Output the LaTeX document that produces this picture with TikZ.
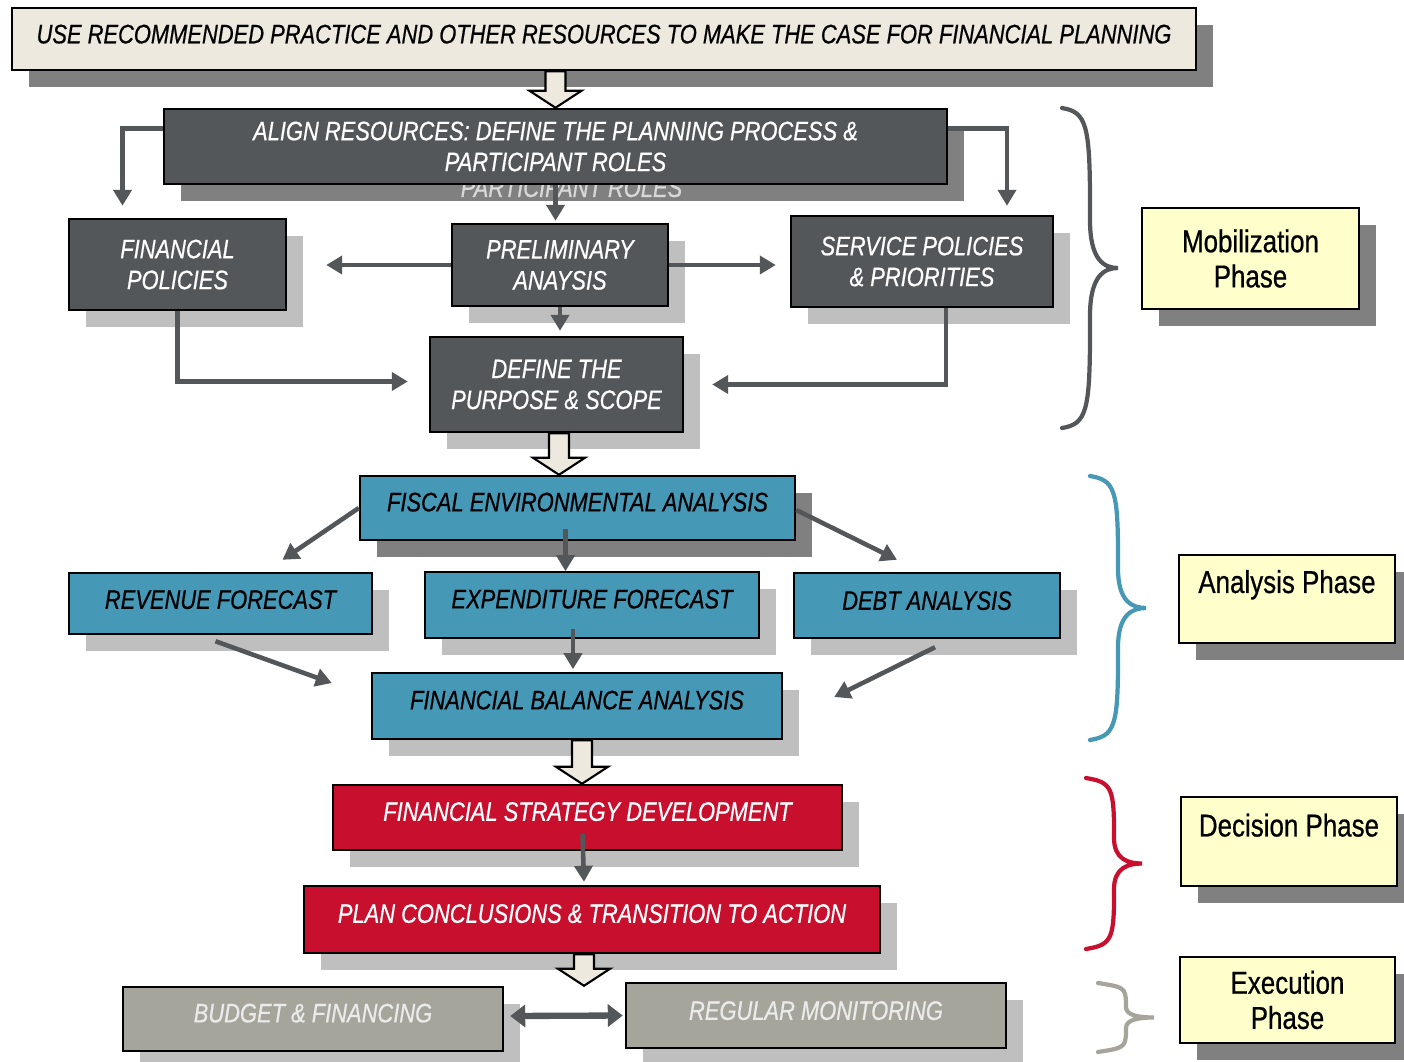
\documentclass[tikz,border=0pt]{standalone}
\usepackage{fontspec}
\setmainfont{Liberation Sans}[FakeStretch=0.82, FakeBold=0.6]
\usetikzlibrary{arrows.meta}
\usetikzlibrary{calc}
\usetikzlibrary{shadows}

\definecolor{boxdark}{HTML}{53575A}
\definecolor{boxbeige}{HTML}{EEE9DE}
\definecolor{boxblue}{HTML}{4598B6}
\definecolor{boxred}{HTML}{C8102E}
\definecolor{boxgray}{HTML}{A5A59C}
\definecolor{phaseyellow}{HTML}{FFFFCC}
\definecolor{shadowdark}{HTML}{808080}
\definecolor{shadowlight}{HTML}{BFBFBF}

\tikzset{
  stagebox/.style={draw=black, line width=1.4pt, align=center, inner sep=0pt,
    font=\fontsize{15.2}{17.6}\selectfont\itshape},
  boxsize/.style 2 args={minimum width=#1*0.02cm, minimum height=#2*0.02cm},
  darkshadow/.style={drop shadow={shadow xshift=0.34cm, shadow yshift=-0.34cm, fill=shadowdark, opacity=1}},
  lightshadow/.style={drop shadow={shadow xshift=0.34cm, shadow yshift=-0.34cm, fill=shadowlight, opacity=1}},
  lift/.style={text depth=#1},
  darkstage/.style={stagebox, fill=boxdark, text=white},
  bluestage/.style={stagebox, fill=boxblue, text=black},
  redstage/.style={stagebox, fill=boxred, text=white},
  graystage/.style={stagebox, fill=boxgray, text=white!92!black},
  phasebox/.style={draw=black, line width=1.4pt, fill=phaseyellow, align=center, inner sep=0pt,
    font=\fontsize{18}{20}\selectfont, darkshadow},
  conn/.style={draw=boxdark, line width=2.6pt, -{Triangle[length=0.32cm, width=0.36cm]}},
  dbl/.style={draw=boxdark, line width=3.6pt,
    {Triangle[length=0.3cm, width=0.44cm]}-{Triangle[length=0.3cm, width=0.44cm]}},
  hollow/.style={draw=black, line width=1.2pt, fill=boxbeige, line join=miter},
  brace/.style={line width=2.4pt, line cap=round},
}

% block arrow from #1 straight down to the level of #2
\newcommand{\hollowarrow}[2]{%
  \path (#1) coordinate (ha-s) (#2) coordinate (ha-e);
  \draw[hollow] ($(ha-s)+(-10,0)$) -- ($(ha-s)+(10,0)$) -- ($(ha-s |- ha-e)+(10,-17)$)
    -- ($(ha-s |- ha-e)+(26,-17)$) -- (ha-s |- ha-e) -- ($(ha-s |- ha-e)+(-26,-17)$)
    -- ($(ha-s |- ha-e)+(-10,-17)$) -- cycle;
}

% curly brace: x, top, bottom, colour
\newcommand{\phasebrace}[4]{%
  \pgfmathsetmacro\bmid{(#2+#3)/2}
  \pgfmathsetmacro\bq{(#3-#2)/4}
  \draw[brace, #4] (#1,#2) .. controls +(24,4) and +(0,-\bq) .. (#1+28,#2+\bq*1.2)
    -- (#1+28,\bmid-\bq*0.6) .. controls +(0,\bq*0.5) and +(-14,0) .. (#1+56,\bmid)
    .. controls +(-14,0) and +(0,-\bq*0.5) .. (#1+28,\bmid+\bq*0.6)
    -- (#1+28,#3-\bq*1.2) .. controls +(0,\bq) and +(24,-4) .. (#1,#3);
}

\begin{document}
\begin{tikzpicture}[x=0.02cm, y=-0.02cm]
    \useasboundingbox (0,0) rectangle (1404,1062);
    \fill[white] (0,0) rectangle (1404,1062);

    % Case for planning
    \node[stagebox, fill=boxbeige, darkshadow, boxsize={1184}{62}, lift=0.2cm] (top) at (604,39)
        {USE RECOMMENDED PRACTICE AND OTHER RESOURCES TO MAKE THE CASE FOR FINANCIAL PLANNING};

    % Mobilization
    \node[darkstage, darkshadow, boxsize={783}{75}] (align) at (555.5,146.5)
        {ALIGN RESOURCES: DEFINE THE PLANNING PROCESS \&\\PARTICIPANT ROLES};
    \begin{scope}
        \clip (align.south west) rectangle ($(align.south east)+(40,20)$);
        \node[font=\fontsize{15.2}{17.6}\selectfont\itshape, text=shadowlight!60!white] (ghost)
            at ($(align.south)+(16,2.5)$) {PARTICIPANT ROLES};
    \end{scope}
    \node[darkstage, lightshadow, boxsize={217}{91}] (finpol) at (177.5,264.5) {FINANCIAL\\POLICIES};
    \node[darkstage, lightshadow, boxsize={216}{82}] (prelim) at (560,265) {PRELIMINARY\\ANAYSIS};
    \node[darkstage, lightshadow, boxsize={262}{91}] (service) at (922,261.5) {SERVICE POLICIES\\\& PRIORITIES};
    \node[darkstage, lightshadow, boxsize={253}{95}] (define) at (556.5,384.5) {DEFINE THE\\PURPOSE \& SCOPE};

    % Analysis
    \node[bluestage, darkshadow, boxsize={435}{64}, lift=0.24cm] (fiscal) at (577.5,508) {FISCAL ENVIRONMENTAL ANALYSIS};
    \node[bluestage, lightshadow, boxsize={303}{61}, lift=0.16cm] (revenue) at (220.5,603.5) {REVENUE FORECAST};
    \node[bluestage, lightshadow, boxsize={334}{66}, lift=0.24cm] (expend) at (592,605) {EXPENDITURE FORECAST};
    \node[bluestage, lightshadow, boxsize={266}{65}, lift=0.2cm] (debt) at (927,605.5) {DEBT ANALYSIS};
    \node[bluestage, lightshadow, boxsize={410}{66}, lift=0.24cm] (fba) at (577,706) {FINANCIAL BALANCE ANALYSIS};

    % Decision
    \node[redstage, lightshadow, boxsize={509}{65}, lift=0.24cm] (strategy) at (587.5,817.5) {FINANCIAL STRATEGY DEVELOPMENT};
    \node[redstage, lightshadow, boxsize={576}{67}, lift=0.24cm] (plan) at (592,919.5) {PLAN CONCLUSIONS \& TRANSITION TO ACTION};

    % Execution
    \node[graystage, lightshadow, boxsize={380}{64}, lift=0.24cm] (budget) at (313,1019) {BUDGET \& FINANCING};
    \node[graystage, lightshadow, boxsize={380}{65}, lift=0.2cm] (monitor) at (816,1015.5) {REGULAR MONITORING};

    % Phases
    \node[phasebox, boxsize={217}{101}] (mobil) at (1250.5,258.5) {Mobilization\\Phase};
    \node[phasebox, boxsize={216}{88}, lift=0.7cm] (analysis) at (1287,599) {Analysis Phase};
    \node[phasebox, boxsize={216}{89}, lift=0.66cm] (decision) at (1289,841.5) {Decision Phase};
    \node[phasebox, boxsize={215}{86}] (execution) at (1287.5,1000) {Execution\\Phase};

    % Braces
    \phasebrace{1062}{108}{428}{boxdark}
    \phasebrace{1090}{476}{740}{boxblue}
    \phasebrace{1086}{778}{949}{boxred}
    \phasebrace{1098}{983}{1052}{boxgray}

    % Block arrows
    \hollowarrow{align.north |- top.south}{align.north}
    \hollowarrow{[xshift=0.05cm]define.south}{fiscal.north}
    \hollowarrow{[xshift=0.1cm]fba.south}{strategy.north}
    \hollowarrow{[xshift=-0.16cm]plan.south}{budget.north}

    % Connectors
    \draw[conn] ($(align.north west)+(0,21)$) -| ($(finpol.north)+(-55,-12)$);
    \draw[conn] ($(align.north east)+(0,21)$) -| ($(service.north)+(85,-9)$);
    \draw[conn] (align.south) -- ($(align.south |- prelim.north)+(0,-2)$);
    \draw[conn] (prelim.west) -- ($(prelim.west -| finpol.east)+(39,0)$);
    \draw[conn] (prelim.east) -- ($(prelim.east -| service.west)+(-14,0)$);
    \draw[conn] (prelim.south) -- ($(prelim.south |- define.north)+(0,-5)$);
    \draw[conn] (finpol.south) |- ($(define.west)+(-21,-3)$);
    \draw[conn] ($(service.south)+(24,0)$) |- ($(define.east)+(28,0)$);

    \draw[conn] (fiscal.west) -- ($(revenue.north)+(62,-12)$);
    \draw[conn] ($(fiscal.south)+(-12,-12)$) -- ($(fiscal.south)+(-12,30)$);
    \draw[conn] ($(fiscal.east)+(0,2)$) -- ($(debt.north)+(-30,-12)$);
    \draw[conn] ($(revenue.south)+(-5,6)$) -- ($(fba.west)+(-39,-23)$);
    \draw[conn] ($(expend.south)+(-19,-10)$) -- ($(expend.south)+(-19,30)$);
    \draw[conn] ($(debt.south)+(8,8)$) -- ($(fba.east)+(51,-9)$);

    \draw[conn] ($(strategy.south)+(-5,-17)$) -- ($(plan.north)+(-8,-3)$);
    \draw[dbl] ($(budget.east)+(6,-3)$) -- ($(monitor.west)+(-2,0)$);
\end{tikzpicture}
\end{document}
